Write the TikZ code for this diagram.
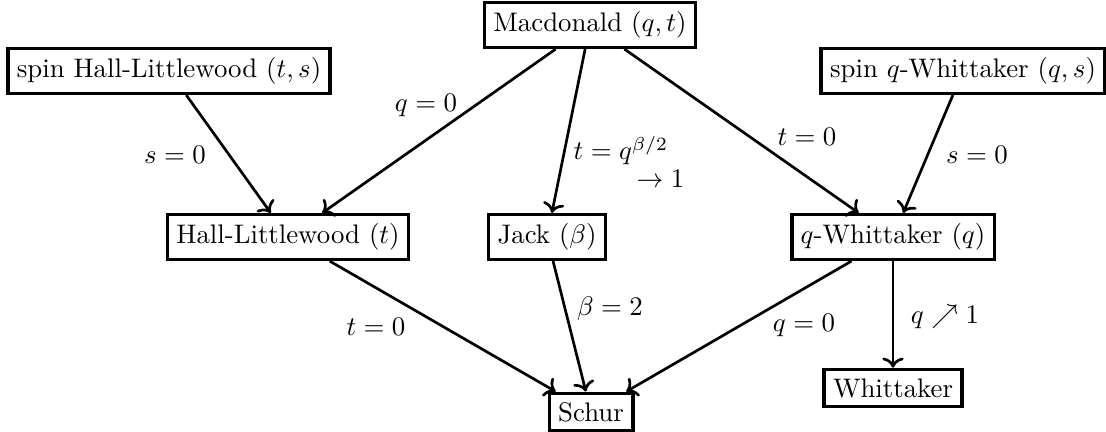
\documentclass[tikz,border=0pt]{standalone}
\usepackage{amsmath,amssymb}
\usetikzlibrary{arrows.meta}
\tikzset{
  fam/.style={rectangle,draw,line width=1.3pt,inner sep=3.33pt},
  arrow/.style={->,line width=1pt},
  lbl/.style={inner sep=0pt},
}
\begin{document}
\begin{tikzpicture}[x=0.01311cm,y=-0.01311cm]
  \useasboundingbox (0,0) rectangle (1106,432);

  % top row
  \node[fam] (mac)   at (590,25)  {Macdonald $(q,t)$};
  \node[fam] (shl)   at (169,71)  {spin Hall-Littlewood $(t,s)$};
  \node[fam] (sqw)   at (963,71)  {spin $q$-Whittaker $(q,s)$};

  % middle row
  \node[fam] (hl)    at (288,237) {Hall-Littlewood $(t)$};
  \node[fam] (jack)  at (547,237) {Jack $(\beta)$};
  \node[fam] (qw)    at (893,237) {$q$-Whittaker $(q)$};

  % bottom row
  \node[fam] (schur) at (591,412) {Schur};
  \node[fam] (whit)  at (893,388) {Whittaker};

  \draw[arrow] (mac) -- (hl);
  \draw[arrow] (mac) -- (jack);
  \draw[arrow] (mac) -- (qw);
  \draw[arrow] (shl) -- (hl);
  \draw[arrow] (sqw) -- (qw);
  \draw[arrow] (hl) -- (schur);
  \draw[arrow] (jack) -- (schur);
  \draw[arrow] (qw) -- (schur);
  \draw[arrow] (qw) -- (whit);

  % labels
  \node[lbl] (l1) at (426,105) {$q=0$};
  \node[lbl] (l2) at (629,162) [align=left]
      {$t=q^{\beta/2}$\\[-1.6pt]\hspace*{23.5pt}$\to 1$};
  \node[lbl] (l3) at (807,137) {$t=0$};
  \node[lbl] (l4) at (175,155) {$s=0$};
  \node[lbl] (l5) at (977,155) {$s=0$};
  \node[lbl] (l6) at (376,327) {$t=0$};
  \node[lbl] (l7) at (610,309) {$\beta=2$};
  \node[lbl] (l8) at (804,325) {$q=0$};
  \node[lbl] (l9) at (945,317) {$q\nearrow 1$};

\end{tikzpicture}
\end{document}
